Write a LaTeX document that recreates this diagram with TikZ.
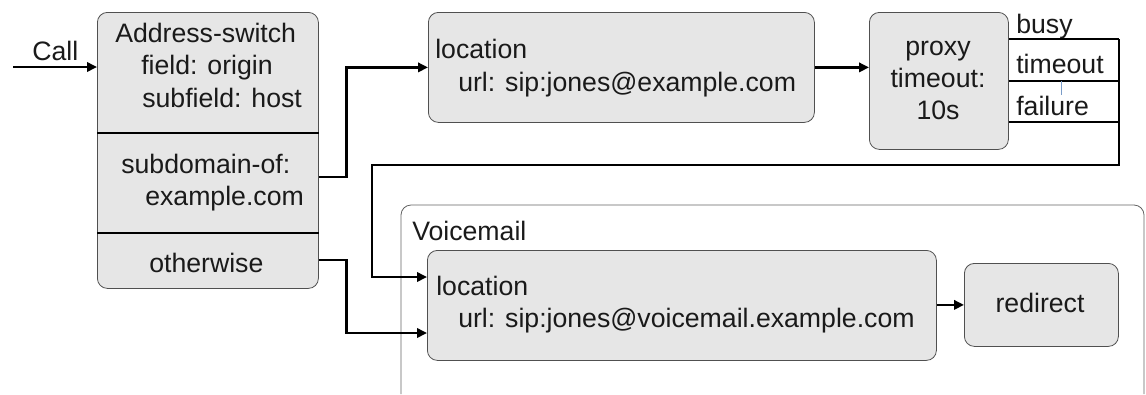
\documentclass[tikz,border=0pt]{standalone}
\usepackage{fontspec}
\setmainfont{Liberation Sans}
\usepackage[HTML]{xcolor}
\usetikzlibrary{positioning, arrows.meta}

\definecolor{boxfill}{HTML}{E6E6E6}
\definecolor{boxline}{HTML}{505050}
\definecolor{inktext}{HTML}{1A1A1A}
\definecolor{tickblue}{HTML}{7A9CC8}

\tikzset{
  blk/.style={draw=boxline, fill=boxfill, line width=0.6pt, rounded corners=7.5pt,
    anchor=north west, inner sep=0pt},
  lbl/.style={inner sep=0pt, anchor=base west, text=inktext,
    font=\fontsize{20}{24}\selectfont},
  clbl/.style={lbl, anchor=base},
  wire/.style={line width=2pt, black},
  flow/.style={wire, -{Triangle[length=7.5pt,width=7pt]}},
}

\begin{document}
\begin{tikzpicture}[x=0.75pt, y=-0.75pt]
\useasboundingbox (0,0) rectangle (1146,394);

% --- Voicemail group ---
\draw[boxline!90, line width=0.6pt, rounded corners=7.5pt]
  (401,394) -- (401,205) -- (1144,205) -- (1144,394);
\node[lbl] (vmtitle) at (412,240) {Voicemail};

% --- Boxes ---
\node[blk, minimum width={221*0.75pt}, minimum height={276*0.75pt}] (switch) at (97,12) {};
\node[blk, minimum width={386*0.75pt}, minimum height={110*0.75pt}] (loc) at (428,12) {};
\node[blk, minimum width={139*0.75pt}, minimum height={137*0.75pt}] (proxy) at (869,12) {};
\node[blk, minimum width={509*0.75pt}, minimum height={110*0.75pt}] (vloc) at (427,250) {};
\node[blk, minimum width={154*0.75pt}, minimum height={83*0.75pt}] (redir) at (964,263) {};

% --- Switch cases ---
\draw[wire] (switch.west |- 0,133) -- (switch.east |- 0,133);
\draw[wire] (switch.west |- 0,233) -- (switch.east |- 0,233);

\node[lbl] (swhead) at (115,42) {Address-switch};
\node[lbl] (swfield) at (141,74) {field: origin};
\node[lbl] (swsub) at (142,107) {subfield: host};
\node[lbl] (subdom) at (121,173) {subdomain-of:};
\node[lbl] (subval) at (145,205) {example.com};
\node[lbl] (other) at (149,272) {otherwise};

\node[lbl] (loctag) at (435,58) {location};
\node[lbl] (locurl) at (458,91) {url: sip:jones@example.com};

\node[clbl] (pxa) at (938,55) {proxy};
\node[clbl] (pxb) at (938,87) {timeout:};
\node[clbl] (pxc) at (938,119) {10s};

\node[lbl] (busy) at (1016,33) {busy};
\node[lbl] (tmout) at (1016,73) {timeout};
\node[lbl] (fail) at (1016,115) {failure};

\node[lbl] (vloctag) at (436,295) {location};
\node[lbl] (vlocurl) at (458,327) {url: sip:jones@voicemail.example.com};
\node[clbl] (redirtxt) at (1040,312) {redirect};

% --- Connectors ---
\coordinate (callin) at (13,67);
\node[lbl] (call) at (32,60) {Call};
\draw[flow] (callin) -- (callin -| switch.west);

\coordinate (subout) at (switch.east |- 0,177);
\draw[flow] (subout) -- ++(28,0) |- (loc.west);
\draw[flow] (loc.east) -- (loc.east -| proxy.west);

\coordinate (busyout) at (proxy.east |- 0,39);
\coordinate (tmout-o) at (proxy.east |- 0,81);
\coordinate (failout) at (proxy.east |- 0,122);
\coordinate (loopturn) at (1119,165);
\foreach \c in {busyout, tmout-o, failout}
  \draw[wire] (\c) -- (\c -| loopturn);
\draw[tickblue, line width=0.5pt] (1061,81) -- (1061,95);
\draw[flow] (busyout -| loopturn) -- (loopturn) -- (372,165) -- (372,277)
  -- (vloc.west |- 0,277);

\coordinate (othout) at (switch.east |- 0,260);
\draw[flow] (othout) -- ++(28,0) |- (vloc.west |- 0,333);
\draw[flow] (vloc.east |- redir.west) -- (redir.west);
\end{tikzpicture}
\end{document}
